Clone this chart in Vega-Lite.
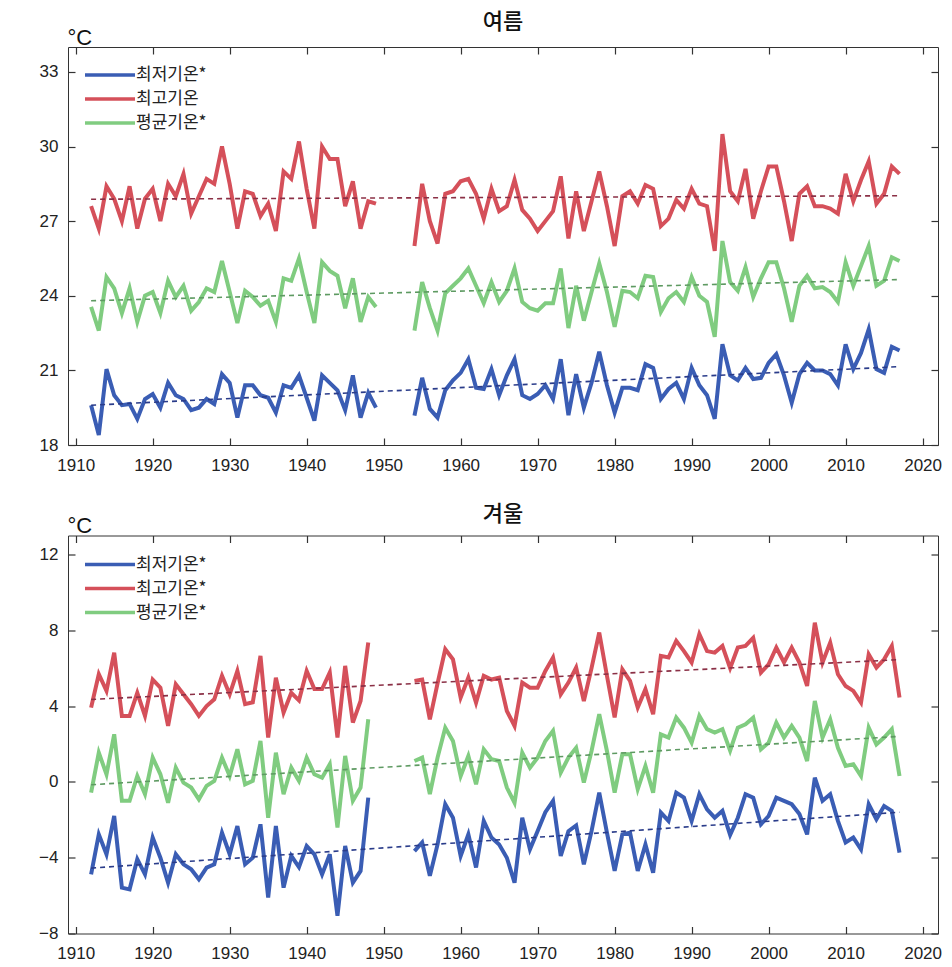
{
  "$schema": "https://vega.github.io/schema/vega-lite/v6.json",
  "background": "white",
  "padding": {"left": 38, "top": 10, "right": 10, "bottom": 0},
  "spacing": 28.5,
  "config": {
    "view": {"stroke": "#333333", "strokeWidth": 1},
    "font": "Liberation Sans",
    "title": {"font": "Noto Sans CJK KR", "fontSize": 22, "fontWeight": 500, "color": "#111111", "anchor": "middle", "frame": "group", "offset": -8},
    "axis": {"domain": false, "grid": false, "labelFont": "Liberation Sans", "labelFontSize": 17, "labelColor": "#222222", "tickColor": "#333333", "tickSize": -7, "tickWidth": 1.2},
    "legend": {"labelFont": "Noto Sans CJK KR", "labelFontSize": 17, "labelColor": "#222222", "symbolType": "M-2.5,0H2.5", "symbolSize": 400, "symbolStrokeWidth": 3.5, "rowPadding": 4, "padding": 0, "labelOffset": 14}
  },
  "datasets": {
    "summer": [
      {"year":1912,"period":"a","tmin":19.6,"tmax":27.6,"tavg":23.55},
      {"year":1913,"period":"a","tmin":18.4,"tmax":26.7,"tavg":22.6},
      {"year":1914,"period":"a","tmin":21.05,"tmax":28.4,"tavg":24.75},
      {"year":1915,"period":"a","tmin":20.0,"tmax":27.9,"tavg":24.3},
      {"year":1916,"period":"a","tmin":19.6,"tmax":27.0,"tavg":23.3},
      {"year":1917,"period":"a","tmin":19.65,"tmax":28.4,"tavg":24.3},
      {"year":1918,"period":"a","tmin":19.05,"tmax":26.7,"tavg":22.95},
      {"year":1919,"period":"a","tmin":19.85,"tmax":27.9,"tavg":24.0},
      {"year":1920,"period":"a","tmin":20.05,"tmax":28.3,"tavg":24.15},
      {"year":1921,"period":"a","tmin":19.5,"tmax":27.0,"tavg":23.3},
      {"year":1922,"period":"a","tmin":20.5,"tmax":28.5,"tavg":24.6},
      {"year":1923,"period":"a","tmin":20.0,"tmax":28.0,"tavg":23.95},
      {"year":1924,"period":"a","tmin":19.85,"tmax":28.9,"tavg":24.4},
      {"year":1925,"period":"a","tmin":19.4,"tmax":27.3,"tavg":23.4},
      {"year":1926,"period":"a","tmin":19.5,"tmax":28.0,"tavg":23.75},
      {"year":1927,"period":"a","tmin":19.85,"tmax":28.7,"tavg":24.3},
      {"year":1928,"period":"a","tmin":19.65,"tmax":28.5,"tavg":24.15},
      {"year":1929,"period":"a","tmin":20.85,"tmax":30.0,"tavg":25.4},
      {"year":1930,"period":"a","tmin":20.5,"tmax":28.5,"tavg":24.15},
      {"year":1931,"period":"a","tmin":19.1,"tmax":26.7,"tavg":22.9},
      {"year":1932,"period":"a","tmin":20.4,"tmax":28.2,"tavg":24.2},
      {"year":1933,"period":"a","tmin":20.4,"tmax":28.1,"tavg":23.95},
      {"year":1934,"period":"a","tmin":20.0,"tmax":27.2,"tavg":23.6},
      {"year":1935,"period":"a","tmin":19.9,"tmax":27.7,"tavg":23.8},
      {"year":1936,"period":"a","tmin":19.3,"tmax":26.6,"tavg":22.95},
      {"year":1937,"period":"a","tmin":20.4,"tmax":29.0,"tavg":24.7},
      {"year":1938,"period":"a","tmin":20.3,"tmax":28.7,"tavg":24.6},
      {"year":1939,"period":"a","tmin":20.8,"tmax":30.2,"tavg":25.5},
      {"year":1940,"period":"a","tmin":19.9,"tmax":28.3,"tavg":24.15},
      {"year":1941,"period":"a","tmin":18.98,"tmax":26.7,"tavg":22.9},
      {"year":1942,"period":"a","tmin":20.8,"tmax":30.0,"tavg":25.35},
      {"year":1943,"period":"a","tmin":20.5,"tmax":29.5,"tavg":25.0},
      {"year":1944,"period":"a","tmin":20.2,"tmax":29.5,"tavg":24.8},
      {"year":1945,"period":"a","tmin":19.4,"tmax":27.6,"tavg":23.5},
      {"year":1946,"period":"a","tmin":20.8,"tmax":28.6,"tavg":24.7},
      {"year":1947,"period":"a","tmin":19.1,"tmax":26.7,"tavg":22.95},
      {"year":1948,"period":"a","tmin":20.1,"tmax":27.8,"tavg":23.95},
      {"year":1949,"period":"a","tmin":19.5,"tmax":27.7,"tavg":23.55},
      {"year":1954,"period":"b","tmin":19.18,"tmax":26.0,"tavg":22.6},
      {"year":1955,"period":"b","tmin":20.7,"tmax":28.5,"tavg":24.55},
      {"year":1956,"period":"b","tmin":19.45,"tmax":27.0,"tavg":23.5},
      {"year":1957,"period":"b","tmin":19.1,"tmax":26.1,"tavg":22.6},
      {"year":1958,"period":"b","tmin":20.2,"tmax":28.1,"tavg":24.1},
      {"year":1959,"period":"b","tmin":20.6,"tmax":28.2,"tavg":24.4},
      {"year":1960,"period":"b","tmin":20.9,"tmax":28.6,"tavg":24.7},
      {"year":1961,"period":"b","tmin":21.45,"tmax":28.7,"tavg":25.1},
      {"year":1962,"period":"b","tmin":20.3,"tmax":28.1,"tavg":24.4},
      {"year":1963,"period":"b","tmin":20.25,"tmax":27.1,"tavg":23.7},
      {"year":1964,"period":"b","tmin":21.05,"tmax":28.3,"tavg":24.55},
      {"year":1965,"period":"b","tmin":20.0,"tmax":27.4,"tavg":23.75},
      {"year":1966,"period":"b","tmin":20.8,"tmax":27.6,"tavg":24.2},
      {"year":1967,"period":"b","tmin":21.45,"tmax":28.66,"tavg":25.1},
      {"year":1968,"period":"b","tmin":20.0,"tmax":27.45,"tavg":23.75},
      {"year":1969,"period":"b","tmin":19.85,"tmax":27.1,"tavg":23.5},
      {"year":1970,"period":"b","tmin":20.05,"tmax":26.6,"tavg":23.4},
      {"year":1971,"period":"b","tmin":20.4,"tmax":27.0,"tavg":23.7},
      {"year":1972,"period":"b","tmin":19.85,"tmax":27.4,"tavg":23.7},
      {"year":1973,"period":"b","tmin":21.45,"tmax":28.8,"tavg":25.1},
      {"year":1974,"period":"b","tmin":19.2,"tmax":26.3,"tavg":22.7},
      {"year":1975,"period":"b","tmin":20.85,"tmax":28.2,"tavg":24.4},
      {"year":1976,"period":"b","tmin":19.5,"tmax":26.6,"tavg":23.0},
      {"year":1977,"period":"b","tmin":20.5,"tmax":27.8,"tavg":24.15},
      {"year":1978,"period":"b","tmin":21.75,"tmax":29.0,"tavg":25.3},
      {"year":1979,"period":"b","tmin":20.4,"tmax":27.6,"tavg":24.15},
      {"year":1980,"period":"b","tmin":19.3,"tmax":26.0,"tavg":22.75},
      {"year":1981,"period":"b","tmin":20.3,"tmax":28.0,"tavg":24.2},
      {"year":1982,"period":"b","tmin":20.3,"tmax":28.2,"tavg":24.15},
      {"year":1983,"period":"b","tmin":20.2,"tmax":27.7,"tavg":23.9},
      {"year":1984,"period":"b","tmin":21.25,"tmax":28.45,"tavg":24.8},
      {"year":1985,"period":"b","tmin":21.1,"tmax":28.3,"tavg":24.75},
      {"year":1986,"period":"b","tmin":19.85,"tmax":26.8,"tavg":23.35},
      {"year":1987,"period":"b","tmin":20.25,"tmax":27.1,"tavg":23.9},
      {"year":1988,"period":"b","tmin":20.5,"tmax":27.85,"tavg":24.15},
      {"year":1989,"period":"b","tmin":19.85,"tmax":27.5,"tavg":23.75},
      {"year":1990,"period":"b","tmin":21.1,"tmax":28.3,"tavg":24.75},
      {"year":1991,"period":"b","tmin":20.4,"tmax":27.7,"tavg":24.0},
      {"year":1992,"period":"b","tmin":20.0,"tmax":27.6,"tavg":23.75},
      {"year":1993,"period":"b","tmin":19.05,"tmax":25.8,"tavg":22.35},
      {"year":1994,"period":"b","tmin":22.05,"tmax":30.5,"tavg":26.2},
      {"year":1995,"period":"b","tmin":20.8,"tmax":28.2,"tavg":24.55},
      {"year":1996,"period":"b","tmin":20.6,"tmax":27.8,"tavg":24.2},
      {"year":1997,"period":"b","tmin":21.1,"tmax":29.1,"tavg":25.15},
      {"year":1998,"period":"b","tmin":20.65,"tmax":27.1,"tavg":23.95},
      {"year":1999,"period":"b","tmin":20.7,"tmax":28.2,"tavg":24.7},
      {"year":2000,"period":"b","tmin":21.3,"tmax":29.2,"tavg":25.35},
      {"year":2001,"period":"b","tmin":21.65,"tmax":29.2,"tavg":25.35},
      {"year":2002,"period":"b","tmin":20.8,"tmax":27.8,"tavg":24.3},
      {"year":2003,"period":"b","tmin":19.7,"tmax":26.2,"tavg":22.95},
      {"year":2004,"period":"b","tmin":20.85,"tmax":28.1,"tavg":24.4},
      {"year":2005,"period":"b","tmin":21.3,"tmax":28.4,"tavg":24.8},
      {"year":2006,"period":"b","tmin":21.0,"tmax":27.6,"tavg":24.3},
      {"year":2007,"period":"b","tmin":21.0,"tmax":27.6,"tavg":24.35},
      {"year":2008,"period":"b","tmin":20.85,"tmax":27.5,"tavg":24.15},
      {"year":2009,"period":"b","tmin":20.4,"tmax":27.3,"tavg":23.75},
      {"year":2010,"period":"b","tmin":22.05,"tmax":28.9,"tavg":25.35},
      {"year":2011,"period":"b","tmin":21.05,"tmax":27.8,"tavg":24.4},
      {"year":2012,"period":"b","tmin":21.7,"tmax":28.65,"tavg":25.2},
      {"year":2013,"period":"b","tmin":22.65,"tmax":29.4,"tavg":26.0},
      {"year":2014,"period":"b","tmin":21.05,"tmax":27.7,"tavg":24.4},
      {"year":2015,"period":"b","tmin":20.9,"tmax":28.1,"tavg":24.6},
      {"year":2016,"period":"b","tmin":21.95,"tmax":29.2,"tavg":25.55},
      {"year":2017,"period":"b","tmin":21.8,"tmax":28.9,"tavg":25.4}
    ],
    "winter": [
      {"year":1912,"period":"a","tmin":-4.88,"tmax":3.92,"tavg":-0.57},
      {"year":1913,"period":"a","tmin":-2.77,"tmax":5.68,"tavg":1.54},
      {"year":1914,"period":"a","tmin":-3.82,"tmax":4.8,"tavg":0.4},
      {"year":1915,"period":"a","tmin":-1.8,"tmax":6.82,"tavg":2.51},
      {"year":1916,"period":"a","tmin":-5.58,"tmax":3.48,"tavg":-1.0},
      {"year":1917,"period":"a","tmin":-5.67,"tmax":3.48,"tavg":-1.0},
      {"year":1918,"period":"a","tmin":-4.08,"tmax":4.7,"tavg":0.31},
      {"year":1919,"period":"a","tmin":-4.88,"tmax":3.48,"tavg":-0.65},
      {"year":1920,"period":"a","tmin":-2.94,"tmax":5.4,"tavg":1.28},
      {"year":1921,"period":"a","tmin":-4.0,"tmax":4.97,"tavg":0.4},
      {"year":1922,"period":"a","tmin":-5.32,"tmax":2.95,"tavg":-1.1},
      {"year":1923,"period":"a","tmin":-3.82,"tmax":5.15,"tavg":0.75},
      {"year":1924,"period":"a","tmin":-4.35,"tmax":4.62,"tavg":-0.04},
      {"year":1925,"period":"a","tmin":-4.61,"tmax":4.1,"tavg":-0.3},
      {"year":1926,"period":"a","tmin":-5.14,"tmax":3.48,"tavg":-0.92},
      {"year":1927,"period":"a","tmin":-4.52,"tmax":4.0,"tavg":-0.21},
      {"year":1928,"period":"a","tmin":-4.35,"tmax":4.36,"tavg":0.05},
      {"year":1929,"period":"a","tmin":-2.68,"tmax":5.6,"tavg":1.28},
      {"year":1930,"period":"a","tmin":-3.82,"tmax":4.62,"tavg":0.31},
      {"year":1931,"period":"a","tmin":-2.33,"tmax":5.85,"tavg":1.72},
      {"year":1932,"period":"a","tmin":-4.35,"tmax":4.1,"tavg":-0.13},
      {"year":1933,"period":"a","tmin":-4.0,"tmax":4.2,"tavg":0.05},
      {"year":1934,"period":"a","tmin":-2.24,"tmax":6.65,"tavg":2.16},
      {"year":1935,"period":"a","tmin":-6.1,"tmax":2.34,"tavg":-1.89},
      {"year":1936,"period":"a","tmin":-2.33,"tmax":5.5,"tavg":1.54},
      {"year":1937,"period":"a","tmin":-5.58,"tmax":3.66,"tavg":-0.65},
      {"year":1938,"period":"a","tmin":-3.9,"tmax":4.7,"tavg":0.75},
      {"year":1939,"period":"a","tmin":-4.5,"tmax":4.3,"tavg":0.05},
      {"year":1940,"period":"a","tmin":-3.38,"tmax":5.85,"tavg":1.28},
      {"year":1941,"period":"a","tmin":-3.82,"tmax":4.9,"tavg":0.4},
      {"year":1942,"period":"a","tmin":-4.88,"tmax":4.9,"tavg":0.22},
      {"year":1943,"period":"a","tmin":-3.82,"tmax":5.77,"tavg":0.93},
      {"year":1944,"period":"a","tmin":-7.07,"tmax":2.34,"tavg":-2.41},
      {"year":1945,"period":"a","tmin":-3.38,"tmax":6.12,"tavg":1.37},
      {"year":1946,"period":"a","tmin":-5.32,"tmax":3.13,"tavg":-1.0},
      {"year":1947,"period":"a","tmin":-4.7,"tmax":4.27,"tavg":-0.3},
      {"year":1948,"period":"a","tmin":-0.83,"tmax":7.35,"tavg":3.3},
      {"year":1954,"period":"b","tmin":-3.65,"tmax":5.33,"tavg":1.1},
      {"year":1955,"period":"b","tmin":-3.2,"tmax":5.4,"tavg":1.28},
      {"year":1956,"period":"b","tmin":-4.96,"tmax":3.3,"tavg":-0.65},
      {"year":1957,"period":"b","tmin":-3.3,"tmax":5.2,"tavg":1.28},
      {"year":1958,"period":"b","tmin":-1.18,"tmax":7.0,"tavg":2.86},
      {"year":1959,"period":"b","tmin":-1.89,"tmax":6.47,"tavg":2.16},
      {"year":1960,"period":"b","tmin":-3.91,"tmax":4.45,"tavg":0.31},
      {"year":1961,"period":"b","tmin":-2.77,"tmax":5.5,"tavg":1.37},
      {"year":1962,"period":"b","tmin":-4.52,"tmax":4.18,"tavg":-0.13},
      {"year":1963,"period":"b","tmin":-2.06,"tmax":5.6,"tavg":1.72},
      {"year":1964,"period":"b","tmin":-2.94,"tmax":5.4,"tavg":1.2},
      {"year":1965,"period":"b","tmin":-3.3,"tmax":5.5,"tavg":1.1},
      {"year":1966,"period":"b","tmin":-4.0,"tmax":3.74,"tavg":-0.3},
      {"year":1967,"period":"b","tmin":-5.32,"tmax":2.95,"tavg":-1.1},
      {"year":1968,"period":"b","tmin":-1.89,"tmax":5.24,"tavg":1.54},
      {"year":1969,"period":"b","tmin":-3.56,"tmax":4.97,"tavg":0.75},
      {"year":1970,"period":"b","tmin":-2.59,"tmax":4.97,"tavg":1.28},
      {"year":1971,"period":"b","tmin":-1.6,"tmax":5.85,"tavg":2.16},
      {"year":1972,"period":"b","tmin":-1.0,"tmax":6.56,"tavg":2.69},
      {"year":1973,"period":"b","tmin":-3.91,"tmax":4.62,"tavg":0.49},
      {"year":1974,"period":"b","tmin":-2.6,"tmax":5.24,"tavg":1.28},
      {"year":1975,"period":"b","tmin":-2.3,"tmax":6.03,"tavg":1.8},
      {"year":1976,"period":"b","tmin":-4.35,"tmax":4.27,"tavg":-0.04},
      {"year":1977,"period":"b","tmin":-2.6,"tmax":6.0,"tavg":1.63},
      {"year":1978,"period":"b","tmin":-0.57,"tmax":7.88,"tavg":3.57},
      {"year":1979,"period":"b","tmin":-2.68,"tmax":5.6,"tavg":1.63},
      {"year":1980,"period":"b","tmin":-4.7,"tmax":3.4,"tavg":-0.57},
      {"year":1981,"period":"b","tmin":-2.77,"tmax":5.94,"tavg":1.46},
      {"year":1982,"period":"b","tmin":-2.68,"tmax":5.33,"tavg":1.46},
      {"year":1983,"period":"b","tmin":-4.7,"tmax":3.92,"tavg":-0.39},
      {"year":1984,"period":"b","tmin":-3.3,"tmax":4.89,"tavg":0.84},
      {"year":1985,"period":"b","tmin":-4.79,"tmax":3.57,"tavg":-0.57},
      {"year":1986,"period":"b","tmin":-1.62,"tmax":6.65,"tavg":2.51},
      {"year":1987,"period":"b","tmin":-2.06,"tmax":6.56,"tavg":2.34},
      {"year":1988,"period":"b","tmin":-0.57,"tmax":7.44,"tavg":3.39},
      {"year":1989,"period":"b","tmin":-0.83,"tmax":6.9,"tavg":2.86},
      {"year":1990,"period":"b","tmin":-2.06,"tmax":6.3,"tavg":2.07},
      {"year":1991,"period":"b","tmin":-0.65,"tmax":7.8,"tavg":3.48},
      {"year":1992,"period":"b","tmin":-1.45,"tmax":6.9,"tavg":2.78},
      {"year":1993,"period":"b","tmin":-1.89,"tmax":6.82,"tavg":2.6},
      {"year":1994,"period":"b","tmin":-1.53,"tmax":7.17,"tavg":2.78},
      {"year":1995,"period":"b","tmin":-2.8,"tmax":6.0,"tavg":1.65},
      {"year":1996,"period":"b","tmin":-1.89,"tmax":7.09,"tavg":2.86},
      {"year":1997,"period":"b","tmin":-0.65,"tmax":7.17,"tavg":3.04},
      {"year":1998,"period":"b","tmin":-0.83,"tmax":7.6,"tavg":3.39},
      {"year":1999,"period":"b","tmin":-2.24,"tmax":5.77,"tavg":1.72},
      {"year":2000,"period":"b","tmin":-1.8,"tmax":6.2,"tavg":2.07},
      {"year":2001,"period":"b","tmin":-0.83,"tmax":7.09,"tavg":3.13},
      {"year":2002,"period":"b","tmin":-1.0,"tmax":6.3,"tavg":2.34},
      {"year":2003,"period":"b","tmin":-1.18,"tmax":7.09,"tavg":2.95},
      {"year":2004,"period":"b","tmin":-1.7,"tmax":6.3,"tavg":2.34},
      {"year":2005,"period":"b","tmin":-2.77,"tmax":5.06,"tavg":1.1},
      {"year":2006,"period":"b","tmin":0.22,"tmax":8.4,"tavg":4.27},
      {"year":2007,"period":"b","tmin":-1.0,"tmax":6.3,"tavg":2.34},
      {"year":2008,"period":"b","tmin":-0.65,"tmax":7.35,"tavg":3.3},
      {"year":2009,"period":"b","tmin":-2.06,"tmax":5.68,"tavg":1.8},
      {"year":2010,"period":"b","tmin":-3.2,"tmax":5.06,"tavg":0.84},
      {"year":2011,"period":"b","tmin":-2.94,"tmax":4.8,"tavg":0.93},
      {"year":2012,"period":"b","tmin":-3.56,"tmax":4.18,"tavg":0.31},
      {"year":2013,"period":"b","tmin":-1.18,"tmax":6.73,"tavg":2.86},
      {"year":2014,"period":"b","tmin":-1.97,"tmax":6.03,"tavg":1.98},
      {"year":2015,"period":"b","tmin":-1.27,"tmax":6.47,"tavg":2.34},
      {"year":2016,"period":"b","tmin":-1.53,"tmax":7.17,"tavg":2.78},
      {"year":2017,"period":"b","tmin":-3.73,"tmax":4.45,"tavg":0.31}
    ],
    "summerTrend": [
      {"series":"tmin","year":1912,"temp":19.6},
      {"series":"tmin","year":2017,"temp":21.15},
      {"series":"tmax","year":1912,"temp":27.88},
      {"series":"tmax","year":2017,"temp":28.02},
      {"series":"tavg","year":1912,"temp":23.8},
      {"series":"tavg","year":2017,"temp":24.65}
    ],
    "winterTrend": [
      {"series":"tmin","year":1912,"temp":-4.55},
      {"series":"tmin","year":2017,"temp":-1.6},
      {"series":"tmax","year":1912,"temp":4.35},
      {"series":"tmax","year":2017,"temp":6.45},
      {"series":"tavg","year":1912,"temp":-0.15},
      {"series":"tavg","year":2017,"temp":2.4}
    ]
  },
  "vconcat": [
    {
      "title": {"text": "여름"},
      "width": 870,
      "height": 398,
      "layer": [
        {
          "data": {"name": "summer"},
          "transform": [{"fold": ["tmin", "tmax", "tavg"], "as": ["series", "temp"]}],
          "mark": {"type": "line", "strokeWidth": 4},
          "encoding": {
            "x": {"field": "year", "type": "quantitative", "scale": {"domain": [1909, 2022], "nice": false, "zero": false},
                  "axis": {"orient": "bottom", "title": null, "values": [1910,1920,1930,1940,1950,1960,1970,1980,1990,2000,2010,2020], "format": "d", "labelPadding": 19}},
            "y": {"field": "temp", "type": "quantitative", "scale": {"domain": [18, 34], "nice": false, "zero": false},
                  "axis": {"orient": "left", "title": "°C", "titleAngle": 0, "titleAlign": "left", "titleBaseline": "alphabetic", "titleX": -1, "titleY": -3, "titleFont": "Liberation Sans", "titleFontSize": 22, "titleFontWeight": "normal", "titleColor": "#111111", "values": [18,21,24,27,30,33], "labelPadding": 17}},
            "color": {"field": "series", "type": "nominal", "scale": {"domain": ["tmin", "tmax", "tavg"], "range": ["#3a5db4", "#d5505a", "#80cc80"]},
                      "legend": {"title": null, "orient": "none", "legendX": 30, "legendY": 16, "labelExpr": "datum.label == 'tmin' ? '최저기온*' : datum.label == 'tmax' ? '최고기온' : '평균기온*'"}},
            "detail": {"field": "period"}
          }
        },
        {
          "data": {"name": "summerTrend"},
          "mark": {"type": "line", "strokeWidth": 1.6, "strokeDash": [5, 4]},
          "encoding": {
            "x": {"field": "year", "type": "quantitative", "axis": {"orient": "top", "title": null, "labels": false, "values": [1910,1920,1930,1940,1950,1960,1970,1980,1990,2000,2010,2020]}},
            "y": {"field": "temp", "type": "quantitative", "axis": {"orient": "right", "title": null, "labels": false, "values": [18,21,24,27,30,33]}},
            "stroke": {"field": "series", "type": "nominal", "scale": {"domain": ["tmin", "tmax", "tavg"], "range": ["#2a3c8a", "#8b3046", "#5e9a62"]}, "legend": null}
          }
        }
      ],
      "resolve": {"axis": {"x": "independent", "y": "independent"}}
    },
    {
      "title": {"text": "겨울", "offset": -11.5},
      "width": 870,
      "height": 398,
      "layer": [
        {
          "data": {"name": "winter"},
          "transform": [{"fold": ["tmin", "tmax", "tavg"], "as": ["series", "temp"]}],
          "mark": {"type": "line", "strokeWidth": 4},
          "encoding": {
            "x": {"field": "year", "type": "quantitative", "scale": {"domain": [1909, 2022], "nice": false, "zero": false},
                  "axis": {"orient": "bottom", "title": null, "values": [1910,1920,1930,1940,1950,1960,1970,1980,1990,2000,2010,2020], "format": "d", "labelPadding": 19}},
            "y": {"field": "temp", "type": "quantitative", "scale": {"domain": [-8, 13], "nice": false, "zero": false},
                  "axis": {"orient": "left", "title": "°C", "titleAngle": 0, "titleAlign": "left", "titleBaseline": "alphabetic", "titleX": -1, "titleY": -3, "titleFont": "Liberation Sans", "titleFontSize": 22, "titleFontWeight": "normal", "titleColor": "#111111", "values": [-8,-4,0,4,8,12], "labelPadding": 17}},
            "color": {"field": "series", "type": "nominal", "scale": {"domain": ["tmin", "tmax", "tavg"], "range": ["#3a5db4", "#d5505a", "#80cc80"]},
                      "legend": {"title": null, "orient": "none", "legendX": 30, "legendY": 17, "labelExpr": "datum.label == 'tmin' ? '최저기온*' : datum.label == 'tmax' ? '최고기온*' : '평균기온*'"}},
            "detail": {"field": "period"}
          }
        },
        {
          "data": {"name": "winterTrend"},
          "mark": {"type": "line", "strokeWidth": 1.6, "strokeDash": [5, 4]},
          "encoding": {
            "x": {"field": "year", "type": "quantitative", "axis": {"orient": "top", "title": null, "labels": false, "values": [1910,1920,1930,1940,1950,1960,1970,1980,1990,2000,2010,2020]}},
            "y": {"field": "temp", "type": "quantitative", "axis": {"orient": "right", "title": null, "labels": false, "values": [-8,-4,0,4,8,12]}},
            "stroke": {"field": "series", "type": "nominal", "scale": {"domain": ["tmin", "tmax", "tavg"], "range": ["#2a3c8a", "#8b3046", "#5e9a62"]}, "legend": null}
          }
        }
      ],
      "resolve": {"axis": {"x": "independent", "y": "independent"}}
    }
  ],
  "resolve": {"scale": {"color": "independent", "stroke": "independent", "y": "independent", "x": "independent"}, "legend": {"color": "independent"}}
}
